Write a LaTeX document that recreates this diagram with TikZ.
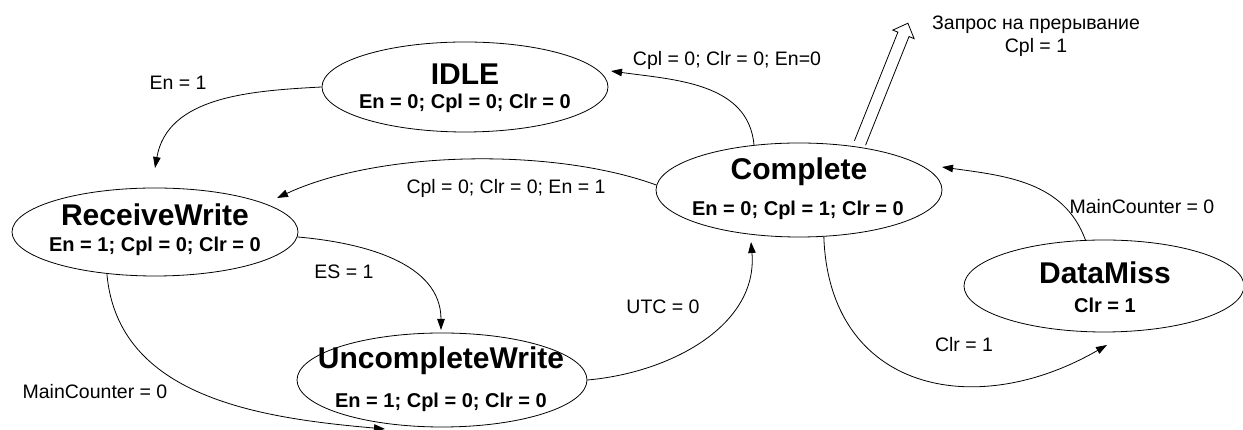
\documentclass[tikz,border=0pt]{standalone}
\usepackage{fontspec}
\setmainfont{Liberation Sans}
\usetikzlibrary{arrows.meta,shapes.geometric}
\begin{document}
\begin{tikzpicture}[x=1pt,y=1pt,
  st/.style={draw, ellipse, line width=0.8pt, inner sep=0pt},
  ttl/.style={font=\fontsize{30}{34}\selectfont\bfseries, inner sep=0pt},
  sub/.style={font=\fontsize{20}{24}\selectfont\bfseries, inner sep=0pt},
  lbl/.style={font=\fontsize{19.5}{23}\selectfont, inner sep=0pt},
  edge/.style={line width=0.8pt, -{Triangle[length=11pt,width=7.5pt]}}]
\useasboundingbox (0,0) rectangle (1243,430);

% states
\node[st, minimum width=286pt, minimum height=90pt] (idle) at (465,343) {};
\node[ttl] (idleT) at (465,356) {IDLE};
\node[sub] (idleS) at (465,327) {En = 0; Cpl = 0; Clr = 0};

\node[st, minimum width=286pt, minimum height=88pt] (recv) at (155,198) {};
\node[ttl] (recvT) at (155,215) {ReceiveWrite};
\node[sub] (recvS) at (155,184) {En = 1; Cpl = 0; Clr = 0};

\node[st, minimum width=286pt, minimum height=94pt] (comp) at (799,240) {};
\node[ttl] (compT) at (799,258) {Complete};
\node[sub] (compS) at (798,220) {En = 0; Cpl = 1; Clr = 0};

\node[st, minimum width=290pt, minimum height=94pt] (uw) at (442,50) {};
\node[ttl] (uwT) at (441,69) {UncompleteWrite};
\node[sub] (uwS) at (441,28) {En = 1; Cpl = 0; Clr = 0};

\node[st, minimum width=280pt, minimum height=92pt] (dm) at (1104,144) {};
\node[ttl] (dmT) at (1105,157) {DataMiss};
\node[sub] (dmS) at (1105,125) {Clr = 1};

% arrow tip points
\coordinate (tRecvTop) at (155,262);
\coordinate (tIdleE) at (611,359);
\coordinate (tRecvNE) at (277,232);
\coordinate (tUwTop) at (441,100);
\coordinate (tUwBot) at (385,1);
\coordinate (tCompBot) at (751,188);
\coordinate (tDmTip) at (1107,85);
\coordinate (tCompE) at (942,263);

% transitions
\draw[edge] (idle.west) to[out=183,in=80] (tRecvTop);
\node[lbl] (l1) at (178,347) {En = 1};

\draw[edge] (comp.135) to[out=95,in=-8] (tIdleE);
\node[lbl] (l2) at (727,370) {Cpl = 0; Clr = 0; En=0};

\draw[edge] (comp.178) to[out=160,in=25,looseness=0.75] (tRecvNE);
\node[lbl] (l3) at (506,242) {Cpl = 0; Clr = 0; En = 1};

\draw[edge] (recv.-2) to[out=-5,in=90] (tUwTop);
\node[lbl] (l4) at (344,158) {ES = 1};

\draw[edge] (recv.221) to[out=-85,in=175] (tUwBot);
\node[lbl] (l5) at (95,38) {MainCounter = 0};

\draw[edge] (uw.east) to[out=5,in=-85] (tCompBot);
\node[lbl] (l6) at (663,123) {UTC = 0};

\draw[edge] (comp.-62) to[out=-88,in=-150,looseness=1.3] (tDmTip);
\node[lbl] (l7) at (964,85) {Clr = 1};

\draw[edge] (dm.112) to[out=110,in=-8] (tCompE);
\node[lbl] (l8) at (1142,223) {MainCounter = 0};

% interrupt request (hollow arrow)
\begin{scope}[shift={(860,287)}, rotate=68.2]
\draw[line width=0.8pt, fill=white, line join=miter]
  (0,-6) -- (117,-6) -- (117,-11.5) -- (129,0) -- (117,11.5) -- (117,6) -- (0,6);
\end{scope}
\node[lbl, align=center] (irq) at (1036,394) {Запрос на прерывание\\Cpl = 1};
\end{tikzpicture}
\end{document}
